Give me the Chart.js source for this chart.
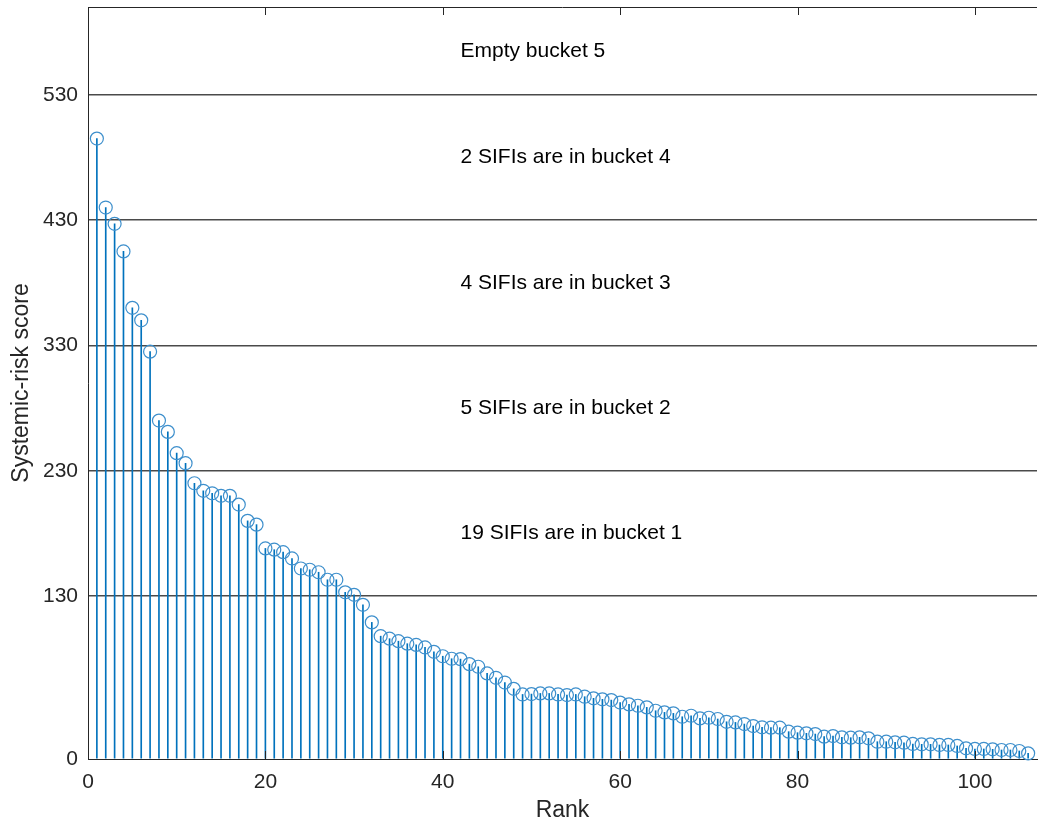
<!DOCTYPE html>
<html>
<head>
<meta charset="utf-8">
<script src="https://cdn.jsdelivr.net/npm/chart.js@4"></script>
<style>
  body { margin: 0; background: #fff; }
  #wrap { width: 1038px; height: 827px; }
</style>
</head>
<body>
<div id="wrap"><canvas id="myChart" width="1038" height="827"></canvas></div>
<script>
// systemic-risk scores, sorted by rank (rank 1 = first value)
const scores = [
  495, 440, 427, 405, 360, 350, 325, 270, 261, 244,
  236, 220, 214, 212, 210, 210, 203, 190, 187, 168,
  167, 165, 160, 152, 151, 149, 143, 143, 133, 131,
  123, 109, 98, 96, 94, 92, 91, 89, 85.5, 82,
  80, 79.7, 75.7, 73.6, 68.3, 64.8, 61, 56, 51.5, 51.8,
  52.3, 52.3, 51.5, 51, 51.5, 49.7, 48.4, 47.6, 47, 45,
  43.6, 42.5, 41.2, 38.5, 37.2, 36.4, 33.7, 34.5, 32.4, 32.9,
  31.9, 29.7, 29.2, 27.9, 26.3, 25.3, 25, 25, 21.8, 21,
  20.5, 19.9, 17.8, 18.3, 17.3, 17, 17.3, 16.5, 13.8, 13.8,
  13.3, 13, 12, 11.7, 11.7, 11.2, 11.2, 10.4, 8.5, 8,
  8, 7.7, 7.2, 7.2, 6.4, 4.5,
];

const yTicks = [0, 130, 230, 330, 430, 530];
const xTicks = [0, 20, 40, 60, 80, 100];

const bucketText = [
  "19 SIFIs are in bucket 1",
  "5 SIFIs are in bucket 2",
  "4 SIFIs are in bucket 3",
  "2 SIFIs are in bucket 4",
  "Empty bucket 5",
];
const bucketTextY = [180, 280, 380, 480, 565];
const bucketTextX = 42;

const blue = "#0072BD";
const axisColor = "#262626";
const fontFam = "'Liberation Sans', Arial, Helvetica, sans-serif";

const points = scores.map((s, i) => ({ x: i + 1, y: s }));

// top border + inward ticks, like matlab axes
const boxPlugin = {
  id: "box",
  afterDraw(chart) {
    const { ctx, chartArea: a, scales } = chart;
    ctx.save();
    ctx.strokeStyle = axisColor;
    ctx.lineWidth = 1;
    ctx.beginPath();
    ctx.moveTo(a.left, a.top + 0.5);
    ctx.lineTo(a.right, a.top + 0.5);
    ctx.stroke();
    xTicks.forEach((v) => {
      const px = Math.round(scales.x.getPixelForValue(v)) + 0.5;
      ctx.beginPath();
      ctx.moveTo(px, a.bottom);
      ctx.lineTo(px, a.bottom - 8);
      ctx.moveTo(px, a.top);
      ctx.lineTo(px, a.top + 8);
      ctx.stroke();
    });
    ctx.restore();
  },
  afterDatasetsDraw(chart) {
    const { ctx, scales } = chart;
    ctx.save();
    ctx.fillStyle = "#000";
    ctx.font = "21px " + fontFam;
    ctx.textAlign = "left";
    ctx.textBaseline = "middle";
    bucketText.forEach((t, i) => {
      ctx.fillText(t, scales.x.getPixelForValue(bucketTextX), scales.y.getPixelForValue(bucketTextY[i]));
    });
    ctx.restore();
  },
};

const ctx = document.getElementById("myChart").getContext("2d");
const myChart = new Chart(ctx, {
  type: "bar",
  data: {
    datasets: [
      {
        type: "scatter",
        data: points,
        pointStyle: "circle",
        pointRadius: 6.5,
        pointHoverRadius: 6.5,
        pointBorderWidth: 1.2,
        borderColor: "#3d8fcc",
        backgroundColor: "rgba(0,0,0,0)",
        clip: false,
        order: 0,
      },
      {
        // the stems
        type: "bar",
        data: points,
        backgroundColor: blue,
        barThickness: 1,
        order: 1,
      },
    ],
  },
  options: {
    responsive: false,
    animation: false,
    events: [],
    layout: { autoPadding: false, padding: { top: 7, right: 1, left: 0, bottom: 0 } },
    plugins: {
      legend: { display: false },
      tooltip: { enabled: false },
    },
    scales: {
      x: {
        type: "linear",
        min: 0,
        max: 107,
        offset: false,
        afterBuildTicks: (scale) => {
          scale.ticks = xTicks.map((v) => ({ value: v }));
        },
        afterFit: (scale) => {
          scale.height = 68;
          scale.paddingLeft = 0;
          scale.paddingRight = 0;
        },
        grid: { display: false, drawTicks: false, offset: false },
        border: { display: true, color: axisColor, width: 1 },
        ticks: {
          color: axisColor,
          padding: 11,
          maxRotation: 0,
          font: { family: fontFam, size: 21 },
        },
        title: {
          display: true,
          text: "Rank",
          color: axisColor,
          padding: { top: 0, bottom: 3 },
          font: { family: fontFam, size: 23 },
        },
      },
      y: {
        min: 0,
        max: 600,
        afterBuildTicks: (scale) => {
          scale.ticks = yTicks.map((v) => ({ value: v }));
        },
        afterFit: (scale) => {
          scale.width = 88;
          scale.paddingTop = 0;
          scale.paddingBottom = 0;
        },
        grid: {
          drawTicks: false,
          lineWidth: 1.5,
          color: (c) => (c.tick && c.tick.value === 0 ? "rgba(0,0,0,0)" : "#4a4a4a"),
        },
        border: { display: true, color: axisColor, width: 1 },
        ticks: {
          color: axisColor,
          padding: 10,
          font: { family: fontFam, size: 21 },
        },
        title: {
          display: true,
          text: "Systemic-risk score",
          color: axisColor,
          padding: { top: 8, bottom: 0 },
          font: { family: fontFam, size: 23 },
        },
      },
    },
  },
  plugins: [boxPlugin],
});
</script>
</body>
</html>
